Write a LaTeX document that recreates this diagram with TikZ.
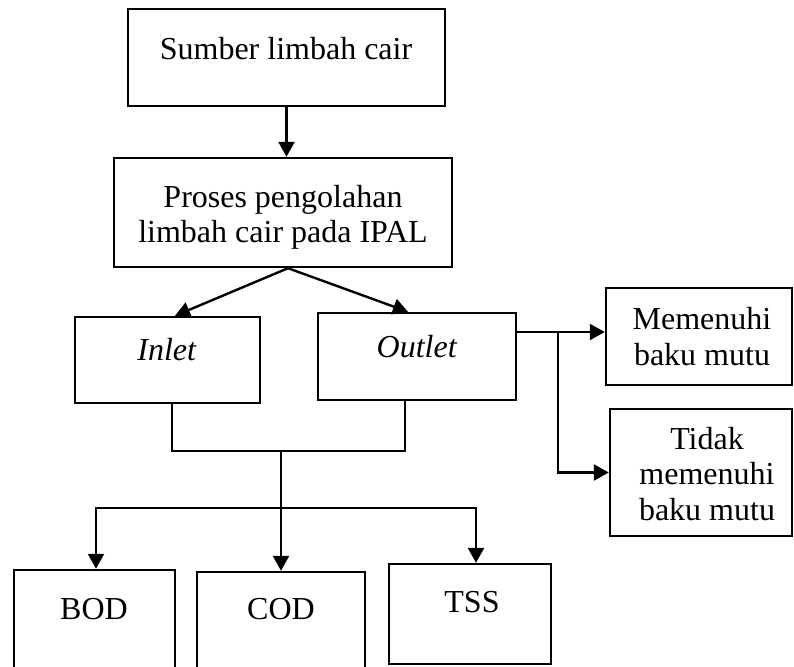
\documentclass[tikz,border=0pt]{standalone}
\usepackage{fontspec}
\setmainfont{Liberation Serif}
\usetikzlibrary{arrows.meta}

\begin{document}
\begin{tikzpicture}[x=1pt,y=-1pt,
					line width=2.4pt,
					box node/.style={draw,rectangle,inner sep=0pt},
					text node/.style={inner sep=0pt,align=center,font=\fontsize{32}{35.5}\selectfont},
					flow/.style={-{Triangle[length=15pt,width=16pt]}}]

  \clip (0,0) rectangle (794,666);

  % boxes
  \node[box node,minimum width=317pt,minimum height=97pt] (sumber) at (286.5,57.5) {};
  \node[box node,minimum width=338pt,minimum height=109pt] (proses) at (283,212.5) {};
  \node[box node,minimum width=185pt,minimum height=86pt] (inlet) at (167.5,360) {};
  \node[box node,minimum width=198pt,minimum height=87pt] (outlet) at (417,356.5) {};
  \node[box node,minimum width=186pt,minimum height=97pt] (memenuhi) at (699,336.5) {};
  \node[box node,minimum width=182pt,minimum height=127pt] (tidak) at (701,472.5) {};
  \node[box node,minimum width=161pt,minimum height=120pt] (bod) at (94.5,630) {};
  \node[box node,minimum width=168pt,minimum height=118pt] (cod) at (281,631) {};
  \node[box node,minimum width=162pt,minimum height=100pt] (tss) at (470,614) {};

  % texts
  \node[text node] (sumberText) at (286,49) {Sumber limbah cair};
  \node[text node] (prosesText) at (283,217.5) {Proses pengolahan\\limbah cair pada IPAL};
  \node[text node] (inletText) at (167,350) {\textit{Inlet}};
  \node[text node] (outletText) at (417,347) {\textit{Outlet}};
  \node[text node] (memenuhiText) at (702,336.5) {Memenuhi\\baku mutu};
  \node[text node] (tidakText) at (707,474) {Tidak\\memenuhi\\baku mutu};
  \node[text node] (bodText) at (94,609.5) {BOD};
  \node[text node] (codText) at (281,609.5) {COD};
  \node[text node] (tssText) at (472,602.5) {TSS};

  % connectors
  \coordinate (split) at (558,332);
  \coordinate (merge) at (281,451);
  \coordinate (fork) at (281,508);

  \draw[flow] (sumber.south) -- (sumber.south |- proses.north);
  \draw[flow] ([xshift=5pt]proses.south) -- ([xshift=7.5pt]inlet.north);
  \draw[flow] ([xshift=5pt]proses.south) -- ([xshift=-9pt]outlet.north);
  \draw[flow] (outlet.east |- split) -- (memenuhi.west |- split);
  \draw[flow] (split) |- (tidak.west);
  \draw ([xshift=4.5pt]inlet.south) |- (merge);
  \draw ([xshift=-12pt]outlet.south) |- (merge);
  \draw[flow] (merge) -- (cod.north);
  \draw[flow] (fork) -| ([xshift=1.5pt]bod.north);
  \draw[flow] (fork) -| ([xshift=6pt]tss.north);
\end{tikzpicture}
\end{document}
